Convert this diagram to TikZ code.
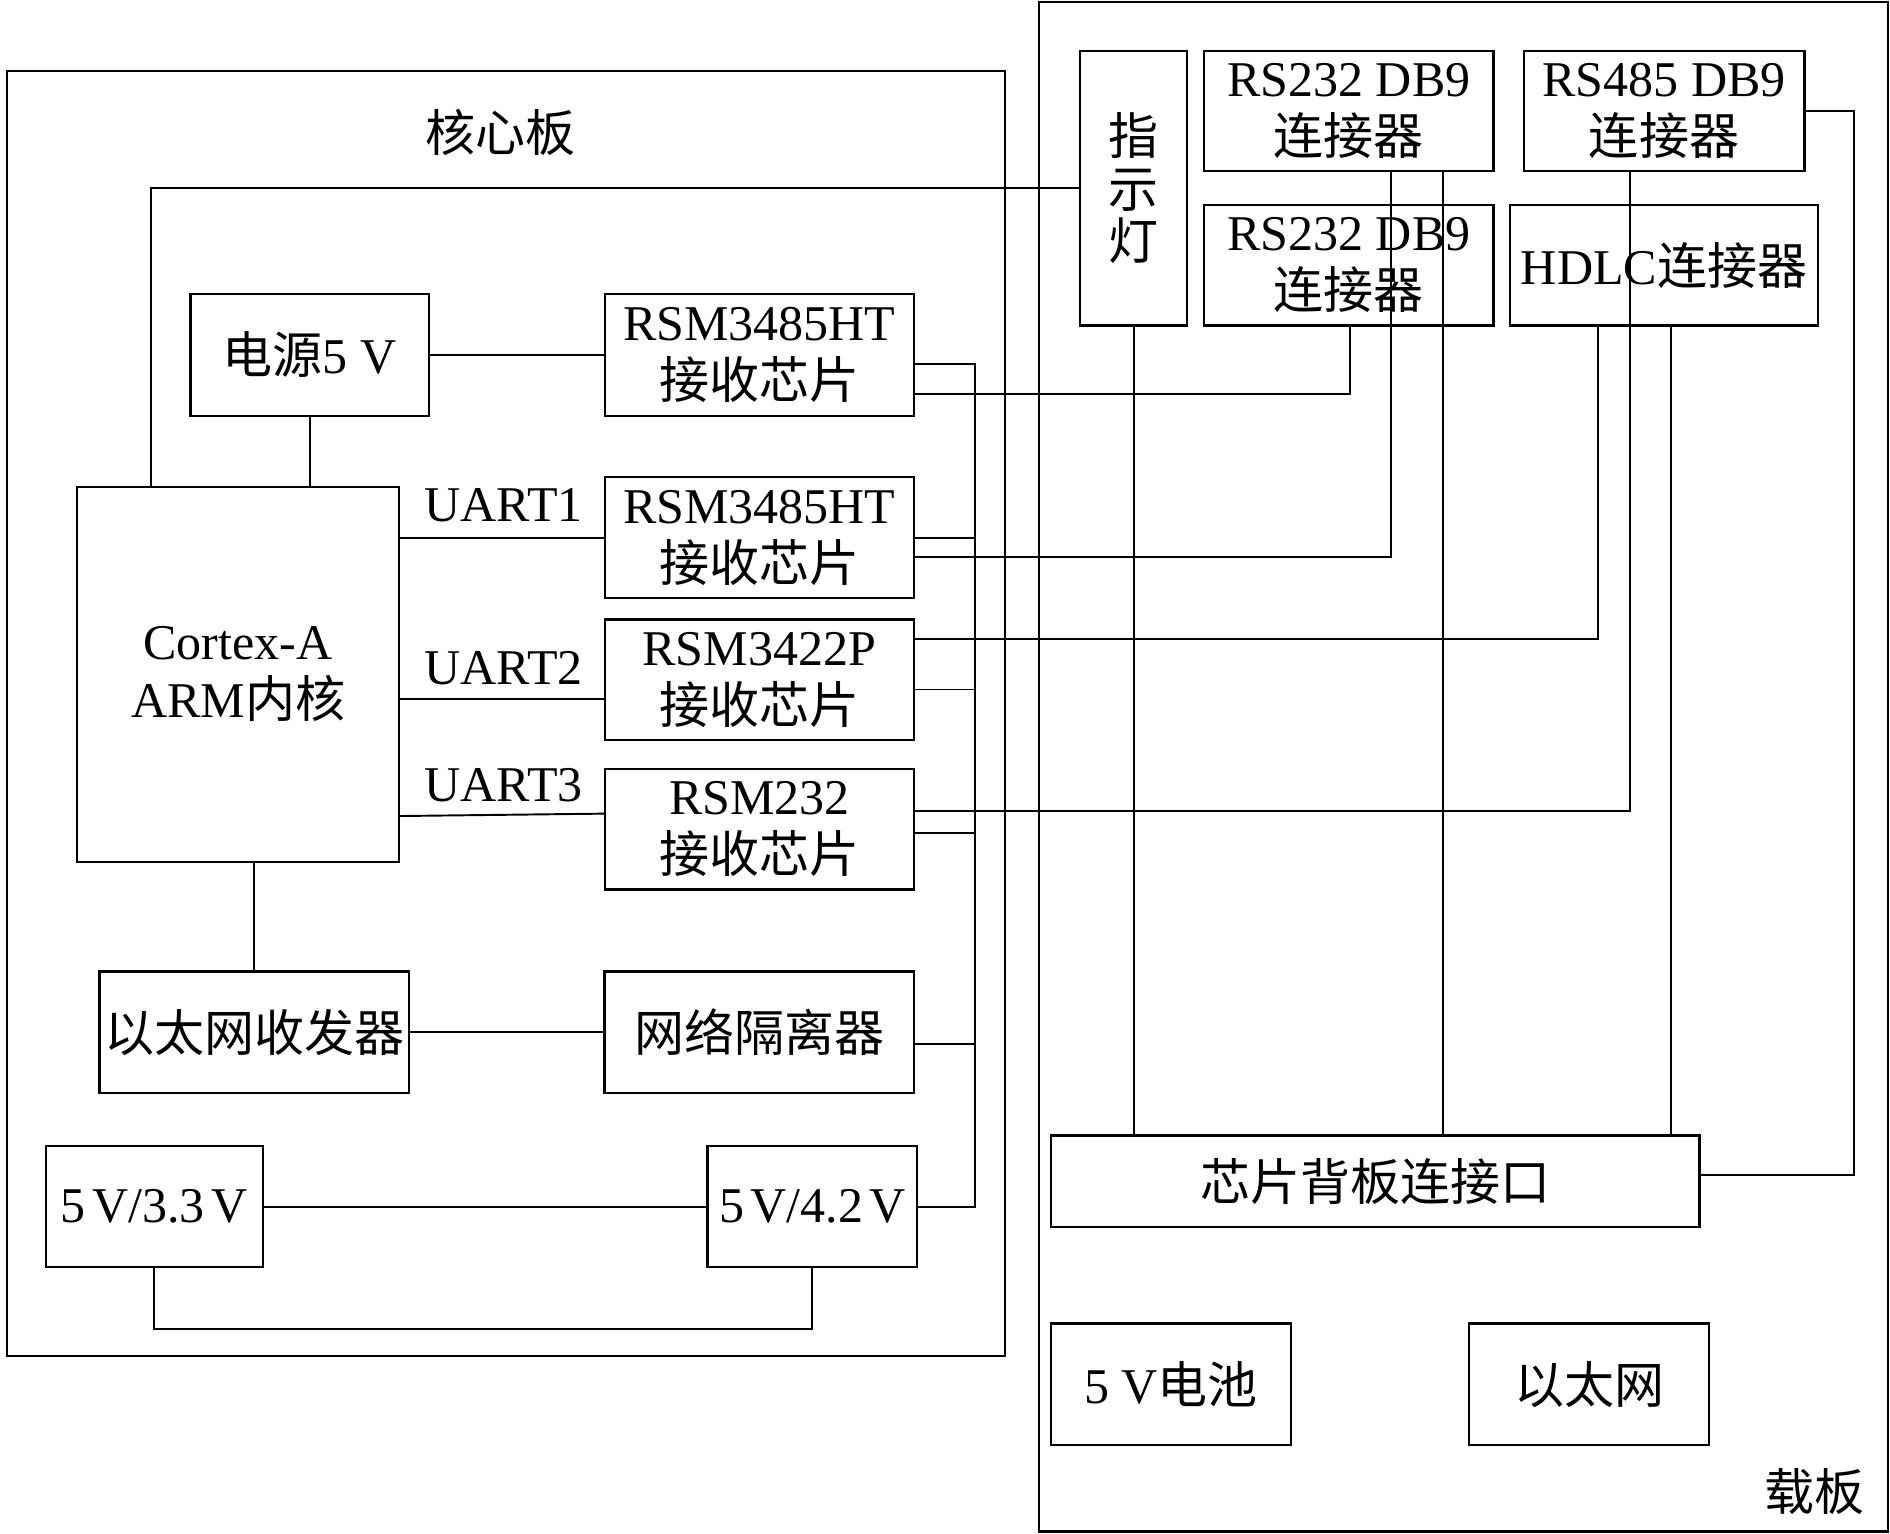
\documentclass[tikz,border=0pt]{standalone}
\usepackage{fontspec}
\setmainfont{Liberation Serif}
\newfontfamily\cjk{Noto Sans CJK SC}
\begin{document}
\begin{tikzpicture}[x=1pt,y=-1pt,
  box/.style={draw,line width=1.8pt,inner sep=0pt,align=center,font=\fontsize{41.5}{48}\selectfont},
  board/.style={draw,line width=1.8pt,inner sep=0pt},
  wire/.style={line width=1.6pt},
  lbl/.style={inner sep=0pt,font=\fontsize{41.5}{48}\selectfont}]
\useasboundingbox (0,0) rectangle (1568,1272);
% boards
\node[board,minimum width=828pt,minimum height=1066pt] (core) at (420,592) {};
\node[board,minimum width=704pt,minimum height=1269pt] (carrier) at (1214,636) {};
\node[lbl] (coretitle) at (415,110) {\cjk 核心板};
\node[lbl] (cartitle) at (1505,1237) {\cjk 载板};
% carrier board boxes
\node[box,minimum width=89pt,minimum height=228pt,font=\fontsize{41.5}{43.5}\selectfont] (led) at (940.5,156) {\cjk 指\\\cjk 示\\\cjk 灯};
\node[box,minimum width=240pt,minimum height=100pt] (dba) at (1119,92) {RS232 DB9\\{\cjk 连接器}};
\node[box,minimum width=240pt,minimum height=100pt] (dbb) at (1119,220) {RS232 DB9\\{\cjk 连接器}};
\node[box,minimum width=233pt,minimum height=100pt] (dbc) at (1380.5,92) {RS485 DB9\\{\cjk 连接器}};
\node[box,minimum width=255pt,minimum height=100pt] (hdlc) at (1380.5,220) {HDLC{\cjk 连接器}};
\node[box,minimum width=538pt,minimum height=76pt] (bp) at (1141,980) {\cjk 芯片背板连接口};
\node[box,minimum width=199pt,minimum height=101pt] (bat) at (971.5,1148.5) {5 V{\cjk 电池}};
\node[box,minimum width=199pt,minimum height=101pt] (net) at (1318.5,1148.5) {\cjk 以太网};
% core board boxes
\node[box,minimum width=198pt,minimum height=101pt] (pwr) at (257,294.5) {{\cjk 电源}5 V};
\node[box,minimum width=256pt,minimum height=101pt] (rsma) at (630,294.5) {RSM3485HT\\{\cjk 接收芯片}};
\node[box,minimum width=267pt,minimum height=311pt] (cpu) at (197.5,559.5) {Cortex-A\\ARM{\cjk 内核}};
\node[box,minimum width=256pt,minimum height=100pt] (rsmb) at (630,446) {RSM3485HT\\{\cjk 接收芯片}};
\node[box,minimum width=256pt,minimum height=100pt] (rsmc) at (630,564) {RSM3422P\\{\cjk 接收芯片}};
\node[box,minimum width=256pt,minimum height=100pt] (rsmd) at (630,688) {RSM232\\{\cjk 接收芯片}};
\node[box,minimum width=257pt,minimum height=101pt] (eth) at (211,856.5) {\cjk 以太网收发器};
\node[box,minimum width=257pt,minimum height=101pt] (iso) at (630,856.5) {\cjk 网络隔离器};
\node[box,minimum width=180pt,minimum height=100pt] (vA) at (128,1001) {5\hspace{0.13em}V/3.3\hspace{0.13em}V};
\node[box,minimum width=174pt,minimum height=100pt] (vB) at (674,1001) {5\hspace{0.13em}V/4.2\hspace{0.13em}V};
% UART labels
\node[lbl] (u1) at (418,419) {UART1};
\node[lbl] (u2) at (418,554) {UART2};
\node[lbl] (u3) at (418,651) {UART3};
% junction coordinates
\coordinate (busT) at (809,302);
\coordinate (busB) at (809,1001);
\coordinate (b2) at (809,446);
\coordinate (b3) at (809,572);
\coordinate (b4) at (809,691);
\coordinate (b5) at (809,866);
\coordinate (ja) at (1120,327);
\coordinate (jb) at (1154,462);
\coordinate (jc) at (1326,530);
\coordinate (jd) at (1352,673);
\coordinate (xa) at (1197,0);
\coordinate (xb) at (1386,0);
\coordinate (jr) at (1538,975);
\coordinate (jl) at (125,156);
\coordinate (ua2) at (331,580);
\coordinate (ua3a) at (331,677);
\coordinate (ua3b) at (502,675);
% core board wiring
\draw[wire] (cpu.north -| jl) -- (jl) -- (led.west);
\draw[wire] (pwr.south) -- (pwr.south |- cpu.north);
\draw[wire] (pwr.east) -- (rsma.west);
\draw[wire] (cpu.east |- rsmb.west) -- (rsmb.west);
\draw[wire] (ua2) -- (rsmc.west |- ua2);
\draw[wire] (ua3a) -- (ua3b);
\draw[wire] (eth.north) -- (eth.north |- cpu.south);
\draw[wire] (eth.east) -- (iso.west);
\draw[wire] (vA.east) -- (vB.west);
\draw[wire] (vA.south) -- ++(0,51) -| (vB.south);
\draw[wire] (rsma.east |- busT) -- (busT) -- (busB) -- (vB.east);
\draw[wire] (rsmb.east |- b2) -- (b2);
\draw[wire] (rsmc.east |- b3) -- (b3);
\draw[wire] (rsmd.east |- b4) -- (b4);
\draw[wire] (iso.east |- b5) -- (b5);
% cross-board wiring
\draw[wire] (rsma.east |- ja) -- (ja) -- (ja |- dbb.south);
\draw[wire] (rsmb.east |- jb) -- (jb) -- (jb |- dba.south);
\draw[wire] (rsmc.east |- jc) -- (jc) -- (jc |- hdlc.south);
\draw[wire] (rsmd.east |- jd) -- (jd) -- (jd |- dbc.south);
\draw[wire] (led.south) -- (led.south |- bp.north);
\draw[wire] (dba.south -| xa) -- (bp.north -| xa);
\draw[wire] (hdlc.south -| xb) -- (bp.north -| xb);
\draw[wire] (dbc.east) -- (dbc.east -| jr) -- (jr) -- (bp.east |- jr);
\end{tikzpicture}
\end{document}
